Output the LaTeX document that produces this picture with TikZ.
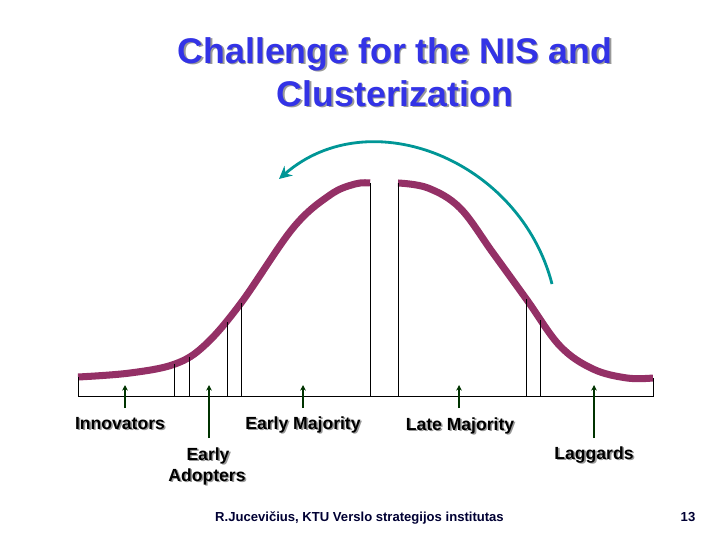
\documentclass[tikz,border=0pt]{standalone}
\usepackage{fontspec}
\setmainfont{Liberation Sans}
\usetikzlibrary{arrows.meta}
\definecolor{titleblue}{RGB}{51,51,230}
\definecolor{bellred}{RGB}{148,48,102}
\definecolor{arcteal}{RGB}{0,150,150}
\definecolor{pointgreen}{RGB}{0,51,0}
\definecolor{footnavy}{RGB}{0,0,51}
% text with a soft grey drop shadow
\newcommand{\shadowed}[1]{\leavevmode\rlap{\kern1.1pt\raisebox{-1.1pt}{\textcolor{black!40}{#1}}}#1}
\begin{document}
\begin{tikzpicture}[x=0.025cm,y=-0.025cm,
    titletext/.style={anchor=base,inner sep=0pt,text=titleblue,font=\fontsize{25.4}{30}\selectfont\bfseries},
    grouplabel/.style={anchor=base,inner sep=0pt,font=\fontsize{12.5}{15}\selectfont\bfseries},
    foottext/.style={anchor=base,inner sep=0pt,text=footnavy,font=\fontsize{9.3}{11}\selectfont\bfseries},
    bell/.style={bellred,line width=5pt,smooth,tension=0.6},
    divider/.style={black,line width=0.6pt},
    pointer/.style={pointgreen,line width=1.4pt,-{Stealth[length=4pt,width=4pt]}},
    turnarc/.style={arcteal,line width=2pt,-{Stealth[length=9pt,width=9pt]}}]
    \useasboundingbox (0,0) rectangle (720,540);
    % title
    \node[titletext] (title1) at (395,63) {\shadowed{Challenge for the NIS and}};
    \node[titletext] (title2) at (395,106) {\shadowed{Clusterization}};
    % bell curve, split at the top
    \draw[bell] plot coordinates {(78,377) (130,373) (175,364) (205,345) (241,303)
      (293,228) (330,195) (355,184) (370,183)};
    \draw[bell] plot coordinates {(398,183) (428,188) (460,208) (493,253) (527,300)
      (560,346) (593,369) (627,378) (653,378)};
    % base line and group dividers
    \draw[divider] (78,377) -- (78,396) -- (653,396) -- (653,378);
    \foreach \x/\y in {174/364,189/357,227/322,241/303,370/183,398/183,526/299,540/320}
      \draw[divider] (\x,396) -- (\x,\y);
    % turning arrow
    \coordinate (arcstart) at (552,284);
    \coordinate (arcend) at (279,179);
    \draw[turnarc] (arcstart) .. controls (520,160) and (370,100) .. (arcend);
    % group labels
    \node[grouplabel] (innov) at (120,429) {\shadowed{Innovators}};
    \node[grouplabel] (earlymaj) at (303,429) {\shadowed{Early Majority}};
    \node[grouplabel] (latemaj) at (460,430) {\shadowed{Late Majority}};
    \node[grouplabel] (early) at (208,460) {\shadowed{Early}};
    \node[grouplabel] (adopt) at (207,481) {\shadowed{Adopters}};
    \node[grouplabel] (lagg) at (594,459) {\shadowed{Laggards}};
    % pointers up to the curve
    \foreach \nm/\x/\y in {innov/125/408,adopt/209/438,earlymaj/303/408,latemaj/459/408,lagg/594/438}{
      \coordinate (\nm tail) at (\x,\y);
      \coordinate (\nm tip) at (\x,385);
      \draw[pointer] (\nm tail) -- (\nm tip);
    }
    % footer
    \node[foottext] (author) at (359.5,521) {R.Jucevičius, KTU Verslo strategijos institutas};
    \node[foottext] (pagenum) at (688,521) {13};
\end{tikzpicture}
\end{document}
